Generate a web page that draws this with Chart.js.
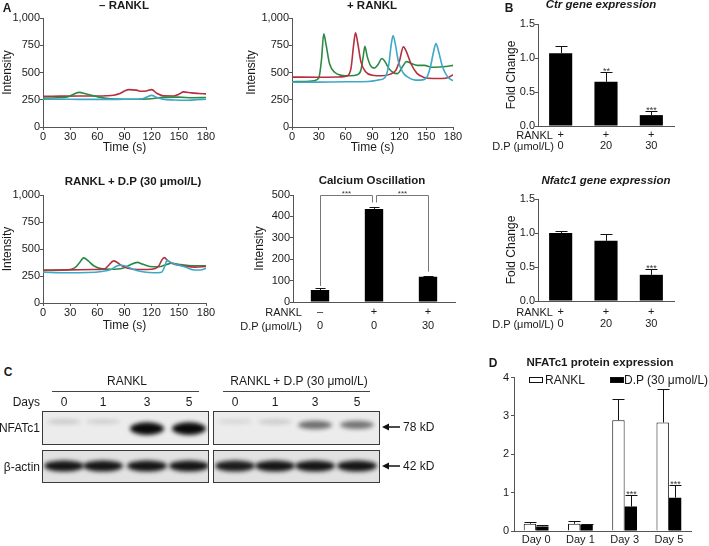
<!DOCTYPE html>
<html>
<head>
<meta charset="utf-8">
<title>NFATc1 figure</title>
<script src="https://cdn.jsdelivr.net/npm/chart.js@4.4.1/dist/chart.umd.min.js"></script>
<style>
  body { margin: 0; width: 709px; height: 546px; position: relative; overflow: hidden; background: #fff;
         font-family: "Liberation Sans", Arial, sans-serif; color: #1a1a1a; }
  canvas { position: absolute; }
  .t { position: absolute; white-space: nowrap; line-height: 1; font-size: 11px; }
  .b { font-weight: bold; }
  .i { font-style: italic; }
  .key { position: absolute; width: 12px; height: 4px; border: 1px solid #111; }
</style>
</head>
<body>
<canvas id="blot" width="420" height="110" style="left:0;top:380px"></canvas>
<script>
// ---------- data ----------
// A: calcium traces, -RANKL
var noRanklRedT = [0,20,40,60,70,78,85,90,95,103,109,114,120,126,133,144,151,155,164,172,180];
var noRanklRedV = [282,283,284,284,286,292,307,330,343,338,328,331,343,307,286,285,305,322,313,308,304];
var noRanklGreenT = [0,15,28,35,40,47,55,62,72,90,110,122,132,150,165,180];
var noRanklGreenV = [265,268,278,305,318,305,288,274,260,254,256,262,272,274,268,270];
var noRanklCyanT = [0,30,60,90,108,114,120,126,132,145,160,170,180];
var noRanklCyanV = [255,254,253,254,257,272,290,270,256,248,246,250,255];

// A: +RANKL
var ranklGreenT = [0,15,25,30,33,35.5,38,42,48,55,65,73,77,79.5,81.5,84,88,92,96,100.5,104,108,113,118,124,128,134,140,148,156,165,172,180];
var ranklGreenV = [415,418,425,450,620,855,760,580,500,475,470,480,520,640,740,650,560,540,570,628,600,540,500,490,560,600,580,565,565,548,550,555,565];
var ranklRedT = [0,30,55,62,66,69,71,73.5,77,82,90,100,110,116,120,124.5,128,133,140,148,158,168,175,180];
var ranklRedV = [458,457,460,470,540,760,865,770,600,510,475,470,485,520,600,735,690,580,490,455,445,445,455,480];
var ranklCyanT = [0,30,60,85,97,104,108,111,113,115.5,119,124,130,138,146,151,155,158.5,161,164,168,174,180];
var ranklCyanV = [410,412,415,418,432,455,560,760,840,760,600,500,455,430,432,460,560,700,765,690,560,460,425];

// A: RANKL + D.P (30 umol/L)
var dpGreenT = [0,25,35,40,45,50,56,64,75,88,96,104,110,118,128,136,142,152,165,180];
var dpGreenV = [300,305,325,370,418,390,345,318,312,322,352,376,360,338,335,355,368,355,345,345];
var dpRedT = [0,30,55,68,72,78,82,88,95,105,115,124,128,131,134,138,145,155,168,180];
var dpRedV = [305,307,310,315,345,390,375,340,320,310,310,320,345,395,420,390,360,345,332,338];
var dpCyanT = [0,25,50,65,75,82,86,92,100,110,122,131,134,137,141,148,158,167,174,180];
var dpCyanV = [285,280,282,292,310,345,350,340,310,290,280,285,330,395,375,355,330,305,305,320];

// A: calcium oscillation bars
var calciumLabels = [['\u2013','0'],['+','0'],['+','30']];
var calciumMean = [56, 435, 118];
var calciumErr = [8, 10, 5];

// B: qPCR
var geneLabels = [['+','0'],['+','20'],['+','30']];
var ctrMean = [1.07, 0.65, 0.16];
var ctrErr = [0.11, 0.14, 0.06];
var ctrStars = ['', '**', '***'];
var nfatMean = [1.0, 0.885, 0.385];
var nfatErr = [0.035, 0.1, 0.085];
var nfatStars = ['', '', '***'];

// C: blot band intensities (0..1)
var blotDays = ['0','1','3','5'];
var nfatcRanklBand = [0.10, 0.08, 0.95, 0.95];
var nfatcDpBand = [0.05, 0.10, 0.50, 0.48];
var actinRanklBand = [0.95, 0.95, 0.95, 0.95];
var actinDpBand = [0.92, 0.95, 0.95, 0.95];

// D: protein quantification
var dayLabels = ['Day 0','Day 1','Day 3','Day 5'];
var ranklMean = [0.19, 0.19, 2.89, 2.83];
var ranklErr = [0.04, 0.07, 0.54, 0.88];
var dpMean = [0.12, 0.17, 0.64, 0.87];
var dpErr = [0.03, 0.02, 0.31, 0.34];
var dpStars = ['', '', '***', '***'];

// ---------- helpers ----------
var AX = '#555';
var RED = '#b5303e', GREEN = '#2b8a45', CYAN = '#3ea8c8';
Chart.defaults.font.family = '"Liberation Sans", Arial, sans-serif';
Chart.defaults.color = '#1a1a1a';

function txt(s, x, y, opt) {
    opt = opt || {};
    var d = document.createElement('div');
    d.className = 't' + (opt.cls ? ' ' + opt.cls : '');
    d.textContent = s;
    d.style.left = x + 'px';
    d.style.top = y + 'px';
    d.style.fontSize = (opt.size || 11) + 'px';
    var a = opt.align || 'c';
    d.style.transform = 'translate(' + (a === 'c' ? '-50%' : a === 'r' ? '-100%' : '0') + ',-50%)';
    document.body.appendChild(d);
}

function pts(t, v) {
    return t.map(function(x, i) { return {x: x, y: v[i]}; });
}

function line(t, v, color) {
    return {data: pts(t, v), borderColor: color, borderWidth: 1.6, pointRadius: 0,
            cubicInterpolationMode: 'monotone', fill: false};
}

function yScale(o) {
    var s = {
        type: 'linear', min: o.min, max: o.max,
        ticks: {stepSize: o.step, padding: o.pad || 0, font: {size: 11}},
        grid: {display: true, drawOnChartArea: false, drawTicks: true, tickLength: 3, color: AX},
        border: {display: true, color: AX},
        title: {display: !!o.title, text: o.title || '', font: {size: 12}, padding: 0}
    };
    if (o.fmt) s.ticks.callback = o.fmt;
    return s;
}

function xTime(titlePad) {
    return {
        type: 'linear', min: 0, max: 180,
        ticks: {stepSize: 30, padding: 0, font: {size: 11}, maxRotation: 0, autoSkip: false},
        grid: {display: true, drawOnChartArea: false, drawTicks: true, tickLength: 3, color: AX},
        border: {display: true, color: AX},
        title: {display: true, text: 'Time (s)', font: {size: 12}, padding: {top: 0, bottom: titlePad}}
    };
}

function xCat(pad, lh) {
    return {
        type: 'category', offset: true,
        ticks: {padding: pad, font: {size: 11, lineHeight: lh}, maxRotation: 0, autoSkip: false},
        grid: {display: true, drawOnChartArea: false, drawTicks: false, color: AX},
        border: {display: true, color: AX}
    };
}

// error bars + stars drawn from the bar elements
var errPlugin = {
    id: 'errs',
    afterDatasetsDraw: function(chart) {
        var ctx = chart.ctx, ys = chart.scales.y;
        chart.data.datasets.forEach(function(ds, di) {
            if (!ds.errs) return;
            chart.getDatasetMeta(di).data.forEach(function(bar, i) {
                var top = Math.round(ys.getPixelForValue(ds.data[i] + ds.errs[i])) + 0.5;
                var x = Math.round(bar.x) + 0.5, cap = ds.cap || 5;
                ctx.save();
                ctx.strokeStyle = '#111';
                ctx.lineWidth = 1;
                ctx.beginPath();
                ctx.moveTo(x, bar.y);
                ctx.lineTo(x, top);
                ctx.moveTo(x - cap, top);
                ctx.lineTo(x + cap, top);
                ctx.stroke();
                if (ds.stars && ds.stars[i]) {
                    ctx.fillStyle = '#333';
                    ctx.font = '9px "Liberation Sans", Arial';
                    ctx.textAlign = 'center';
                    ctx.textBaseline = 'alphabetic';
                    ctx.fillText(ds.stars[i], x, top + 1);
                }
                ctx.restore();
            });
        });
    }
};

function makeChart(rect, m, type, data, scales, extra) {
    var c = document.createElement('canvas');
    c.width = rect.r - rect.l + m.l + m.r;
    c.height = rect.b - rect.t + m.t + m.b;
    c.style.left = (rect.l - m.l) + 'px';
    c.style.top = (rect.t - m.t) + 'px';
    document.body.appendChild(c);
    scales.x.afterFit = function(s) { s.height = m.b; };
    scales.y.afterFit = function(s) { s.width = m.l; };
    return new Chart(c, {
        type: type,
        data: data,
        options: {
            responsive: false, animation: false, events: [], devicePixelRatio: 1,
            layout: {padding: {left: 0, top: m.t, right: m.r, bottom: 0}},
            plugins: {legend: {display: false}, tooltip: {enabled: false}},
            scales: scales
        },
        plugins: [errPlugin].concat(extra || [])
    });
}

// ---------- A: traces ----------
makeChart({l: 43, t: 18, r: 206, b: 127}, {l: 43, t: 10, r: 14, b: 30}, 'line',
    {datasets: [line(noRanklCyanT, noRanklCyanV, CYAN), line(noRanklGreenT, noRanklGreenV, GREEN),
                line(noRanklRedT, noRanklRedV, RED)]},
    {x: xTime(2), y: yScale({min: 0, max: 1000, step: 250, title: 'Intensity'})});

makeChart({l: 292, t: 18, r: 453, b: 127}, {l: 48, t: 10, r: 14, b: 30}, 'line',
    {datasets: [line(ranklCyanT, ranklCyanV, CYAN), line(ranklRedT, ranklRedV, RED),
                line(ranklGreenT, ranklGreenV, GREEN)]},
    {x: xTime(2), y: yScale({min: 0, max: 1000, step: 250, title: 'Intensity'})});

makeChart({l: 43, t: 195, r: 206, b: 303}, {l: 43, t: 10, r: 14, b: 30}, 'line',
    {datasets: [line(dpCyanT, dpCyanV, CYAN), line(dpRedT, dpRedV, RED),
                line(dpGreenT, dpGreenV, GREEN)]},
    {x: xTime(0), y: yScale({min: 0, max: 1000, step: 250, title: 'Intensity'})});

// ---------- A: calcium oscillation ----------
var bracketPlugin = {
    id: 'brackets',
    afterDatasetsDraw: function(chart) {
        var ctx = chart.ctx, xs = chart.scales.x, ys = chart.scales.y;
        var topY = Math.round(ys.getPixelForValue(502)) + 0.5;
        var pairs = [[0, 1, 75, 465, 0, -2], [1, 2, 465, 142, 2, 0]];
        ctx.save();
        ctx.strokeStyle = '#777';
        ctx.lineWidth = 1;
        pairs.forEach(function(p) {
            var x1 = Math.round(xs.getPixelForValue(p[0])) + 0.5 + p[4];
            var x2 = Math.round(xs.getPixelForValue(p[1])) + 0.5 + p[5];
            ctx.beginPath();
            ctx.moveTo(x1, ys.getPixelForValue(p[2]));
            ctx.lineTo(x1, topY);
            ctx.lineTo(x2, topY);
            ctx.lineTo(x2, ys.getPixelForValue(p[3]));
            ctx.stroke();
            ctx.fillStyle = '#333';
            ctx.font = '8px "Liberation Sans", Arial';
            ctx.textAlign = 'center';
            ctx.fillText('***', (x1 + x2) / 2, topY);
        });
        ctx.restore();
    }
};
makeChart({l: 293, t: 195, r: 455, b: 302}, {l: 41, t: 10, r: 8, b: 34}, 'bar',
    {labels: calciumLabels,
     datasets: [{data: calciumMean, backgroundColor: '#000', borderWidth: 0,
                 barPercentage: 0.34, categoryPercentage: 1, errs: calciumErr, cap: 5}]},
    {x: xCat(2.5, 1.3), y: yScale({min: 0, max: 500, step: 100, title: 'Intensity'})},
    [bracketPlugin]);

// ---------- B ----------
var fmt1 = function(v) { return v.toFixed(1); };
makeChart({l: 538, t: 24, r: 674, b: 126}, {l: 34, t: 10, r: 12, b: 26}, 'bar',
    {labels: geneLabels,
     datasets: [{data: ctrMean, backgroundColor: '#000', borderWidth: 0,
                 barPercentage: 0.51, categoryPercentage: 1, errs: ctrErr, stars: ctrStars, cap: 6}]},
    {x: xCat(3, 1.0), y: yScale({min: 0, max: 1.5, step: 0.5, title: 'Fold Change', fmt: fmt1})});

makeChart({l: 538, t: 199, r: 674, b: 301}, {l: 34, t: 10, r: 12, b: 28}, 'bar',
    {labels: geneLabels,
     datasets: [{data: nfatMean, backgroundColor: '#000', borderWidth: 0,
                 barPercentage: 0.51, categoryPercentage: 1, errs: nfatErr, stars: nfatStars, cap: 6}]},
    {x: xCat(4.5, 1.12), y: yScale({min: 0, max: 1.5, step: 0.5, title: 'Fold Change', fmt: fmt1})});

// ---------- D ----------
makeChart({l: 514, t: 377, r: 691, b: 531}, {l: 20, t: 8, r: 14, b: 15}, 'bar',
    {labels: dayLabels,
     datasets: [
        {label: 'RANKL', data: ranklMean, backgroundColor: '#fff', borderColor: '#111', borderWidth: 1,
         barPercentage: 1, categoryPercentage: 0.56, errs: ranklErr, cap: 6},
        {label: 'D.P (30 \u03bcmol/L)', data: dpMean, backgroundColor: '#000', borderWidth: 0,
         barPercentage: 1, categoryPercentage: 0.56, errs: dpErr, stars: dpStars, cap: 6}]},
    {x: xCat(2.4, 1.2), y: yScale({min: 0, max: 4, step: 1, pad: 2})});

// ---------- C: western blot ----------
(function() {
    var g = document.getElementById('blot').getContext('2d');
    var OY = 380;
    var laneL = [64, 103, 147, 189], laneR = [235, 275, 315, 357];

    function box(x1, y1, x2, y2, fill, bands) {
        g.save();
        g.fillStyle = fill;
        g.fillRect(x1, y1 - OY, x2 - x1, y2 - y1);
        g.beginPath();
        g.rect(x1, y1 - OY, x2 - x1, y2 - y1);
        g.clip();
        bands();
        g.restore();
        g.strokeStyle = '#3a3a3a';
        g.lineWidth = 1;
        g.strokeRect(x1 + 0.5, y1 - OY + 0.5, x2 - x1 - 1, y2 - y1 - 1);
    }
    function band(cx, cy, w, h, a) {
        g.save();
        g.filter = 'blur(2px)';
        g.globalAlpha = a;
        g.fillStyle = '#0a0a0a';
        g.beginPath();
        g.ellipse(cx, cy - OY, w / 2, h / 2, 0, 0, Math.PI * 2);
        g.fill();
        g.restore();
    }
    function nfatc(lanes, vals) {
        return function() {
            lanes.forEach(function(x, i) {
                var a = vals[i];
                band(x, 421 + 8 * a, 34, 4 + 9 * a, Math.min(1, a + 0.05));
            });
        };
    }
    function actin(lanes, vals) {
        return function() {
            lanes.forEach(function(x, i) { band(x, 466, 40, 11, vals[i]); });
        };
    }
    box(42, 411, 209, 445, '#ececec', nfatc(laneL, nfatcRanklBand));
    box(213, 411, 380, 445, '#ececec', nfatc(laneR, nfatcDpBand));
    box(42, 450, 209, 483, '#e2e2e2', actin(laneL, actinRanklBand));
    box(213, 450, 380, 483, '#e2e2e2', actin(laneR, actinDpBand));

    // header rules
    g.strokeStyle = '#444';
    g.beginPath();
    g.moveTo(52, 391.5 - OY); g.lineTo(199, 391.5 - OY);
    g.moveTo(223, 391.5 - OY); g.lineTo(370, 391.5 - OY);
    g.stroke();

    // size arrows
    [427, 466].forEach(function(y) {
        g.strokeStyle = '#111';
        g.lineWidth = 1.5;
        g.beginPath();
        g.moveTo(400, y - OY); g.lineTo(386, y - OY);
        g.stroke();
        g.fillStyle = '#111';
        g.beginPath();
        g.moveTo(382, y - OY); g.lineTo(389, y - OY - 3.5); g.lineTo(389, y - OY + 3.5);
        g.closePath();
        g.fill();
    });

    blotDays.forEach(function(d, i) {
        txt(d, laneL[i], 402, {size: 12});
        txt(d, laneR[i], 402, {size: 12});
    });
})();

// ---------- text ----------
txt('A', 7, 8, {cls: 'b', size: 12});
txt('\u2013 RANKL', 124, 6, {cls: 'b', size: 11.5});
txt('+ RANKL', 372, 6, {cls: 'b', size: 11.5});
txt('B', 509, 8, {cls: 'b', size: 12});
txt('Ctr gene expression', 601, 5, {cls: 'b i', size: 11.5});
txt('RANKL + D.P (30 \u03bcmol/L)', 133, 182, {cls: 'b', size: 11.5});
txt('Calcium Oscillation', 372, 181, {cls: 'b', size: 11.5});
txt('Nfatc1 gene expression', 606, 181, {cls: 'b i', size: 11.5});

txt('RANKL', 302, 312, {align: 'r'});
txt('D.P (\u03bcmol/L)', 302, 326, {align: 'r'});
txt('RANKL', 553, 135, {align: 'r'});
txt('D.P (\u03bcmol/L)', 554, 146, {align: 'r'});
txt('RANKL', 553, 312, {align: 'r'});
txt('D.P (\u03bcmol/L)', 554, 324, {align: 'r'});

txt('C', 8, 372, {cls: 'b', size: 12});
txt('RANKL', 127, 381, {size: 12});
txt('RANKL + D.P (30 \u03bcmol/L)', 299, 381, {size: 12});
txt('Days', 40, 402, {align: 'r', size: 12});
txt('NFATc1', 40, 428, {align: 'r', size: 12});
txt('\u03b2-actin', 40, 467, {align: 'r', size: 12});
txt('78 kD', 403, 427, {align: 'l', size: 12});
txt('42 kD', 403, 466, {align: 'l', size: 12});

txt('D', 493, 363, {cls: 'b', size: 12});
txt('NFATc1 protein expression', 600, 363, {cls: 'b', size: 11.5});
(function() {
    var k1 = document.createElement('div');
    k1.className = 'key';
    k1.style.cssText = 'left:529px;top:377px;background:#fff';
    document.body.appendChild(k1);
    var k2 = document.createElement('div');
    k2.className = 'key';
    k2.style.cssText = 'left:610px;top:377px;background:#000';
    document.body.appendChild(k2);
})();
txt('RANKL', 545, 380, {align: 'l', size: 12});
txt('D.P (30 \u03bcmol/L)', 624, 380, {align: 'l', size: 12});
</script>
</body>
</html>
